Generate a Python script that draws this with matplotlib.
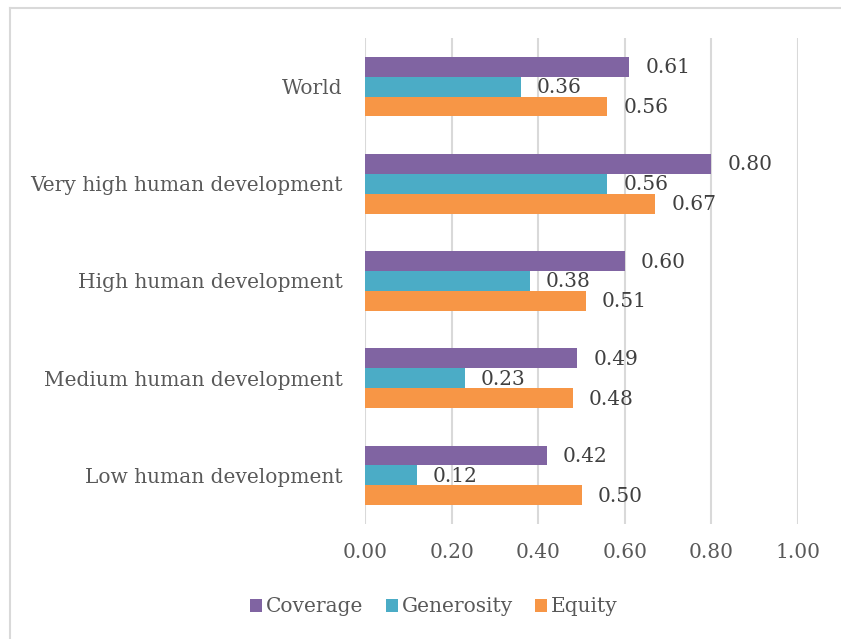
import numpy as np
import matplotlib.pyplot as plt
from matplotlib.lines import Line2D

# data
categories = ['World', 'Very high human development', 'High human development',
              'Medium human development', 'Low human development']
coverage = [0.61, 0.80, 0.60, 0.49, 0.42]
generosity = [0.36, 0.56, 0.38, 0.23, 0.12]
equity = [0.56, 0.67, 0.51, 0.48, 0.50]
series_names = ['Coverage', 'Generosity', 'Equity']
colors = ['#8064A2', '#4BACC6', '#F79646']

plt.rcParams['font.family'] = ['DejaVu Serif']
txt = '#595959'
fs = 14.5

fig = plt.figure(figsize=(8.41, 6.39), dpi=100)
ax = fig.add_axes([365/841, 1-524/639, 433/841, 486/639])

y = np.arange(len(categories))[::-1]
h = 0.205
for k, (vals, name) in enumerate(zip([coverage, generosity, equity], series_names)):
    pos = y + (1 - k) * h
    ax.barh(pos, vals, height=h, color=colors[k], label=name, zorder=2)
    for p, v in zip(pos, vals):
        ax.text(v + 0.037, p - 0.01, f'{v:.2f}', va='center', ha='left', fontsize=fs, color='#404040')

ax.set_xlim(0, 1.0)
ax.set_ylim(-0.5, len(categories) - 0.5)
ax.set_xticks(np.arange(0, 1.01, 0.2))
ax.set_xticklabels([f'{t:.2f}' for t in np.arange(0, 1.01, 0.2)], fontsize=fs, color=txt)
ax.set_yticks(y)
ax.set_yticklabels(categories, fontsize=fs, color=txt)
ax.tick_params(length=0)
ax.tick_params(axis='y', pad=16)
ax.tick_params(axis='x', pad=14)
ax.grid(axis='x', color='#D9D9D9', linewidth=1.5, zorder=0)
for s in ax.spines.values():
    s.set_visible(False)

ax.legend(loc='center', bbox_to_anchor=(434/841, 1 - 607/639), bbox_transform=fig.transFigure,
          ncol=3, frameon=False, fontsize=fs, handlelength=0.6, handleheight=0.6,
          handletextpad=0.2, columnspacing=1.1, labelcolor=txt)

# outer chart frame
fig.add_artist(Line2D([10/841, 10/841], [0, 1-8/639], transform=fig.transFigure, color='#D9D9D9', lw=1.5))
fig.add_artist(Line2D([10/841, 1], [1-8/639, 1-8/639], transform=fig.transFigure, color='#D9D9D9', lw=1.5))

fig.savefig('out.png', dpi=100)
